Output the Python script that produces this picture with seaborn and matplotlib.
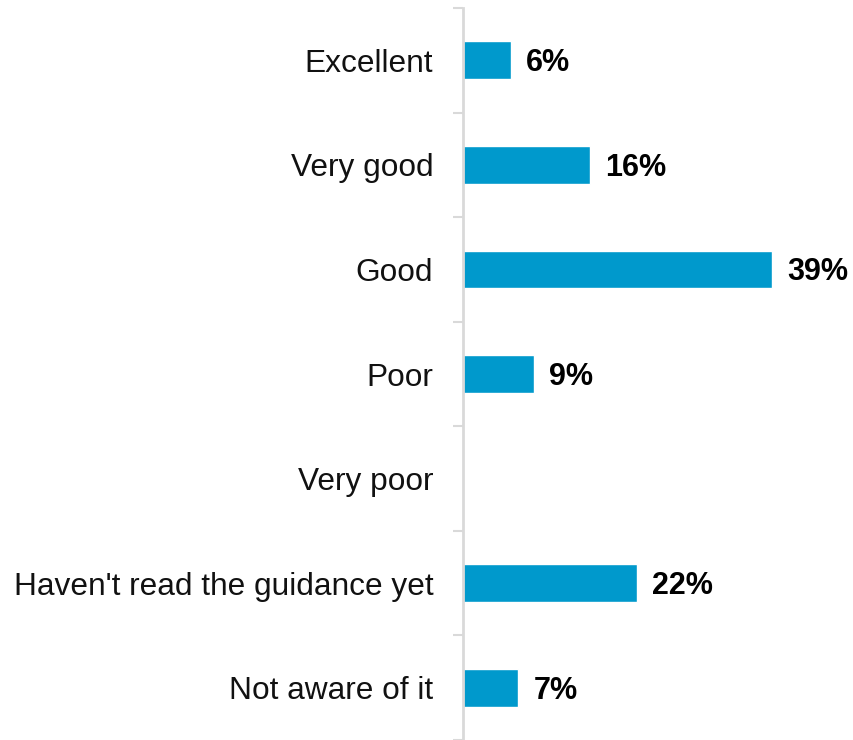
import matplotlib
matplotlib.use("Agg")
import matplotlib.pyplot as plt
import seaborn as sns
import pandas as pd

categories = ["Excellent", "Very good", "Good", "Poor", "Very poor",
              "Haven't read the guidance yet", "Not aware of it"]
values = [6, 16, 39, 9, None, 22, 7]

sns.set_theme(style="white")
plt.rcParams["font.family"] = ["Liberation Sans", "DejaVu Sans"]

df = pd.DataFrame({"category": categories, "value": values})

fig = plt.figure(figsize=(8.54, 7.40), dpi=100)
ax = fig.add_axes([463 / 854, 0.0, 388 / 854, 1 - 8 / 740])

sns.barplot(data=df, x="value", y="category", order=categories,
            color="#0099CC", saturation=1, width=0.36, ax=ax)

ax.set_xlim(0, 49)
ax.set_ylim(len(categories) - 0.5, -0.5)
ax.set_xlabel("")
ax.set_ylabel("")
ax.set_xticks([])

# ticks at category boundaries, labels centred on the bars
ax.set_yticks([i - 0.5 for i in range(len(categories) + 1)], minor=False)
ax.set_yticklabels([])
ax.set_yticks(range(len(categories)), minor=True)
ax.set_yticklabels(categories, minor=True, fontsize=22.8, color="#111111")
ax.tick_params(axis="y", which="major", length=7.5, width=1.5, color="#D9D9D9", left=True)
ax.tick_params(axis="y", which="minor", length=0, pad=21.5)

for side in ["top", "right", "bottom"]:
    ax.spines[side].set_visible(False)
ax.spines["left"].set_color("#D9D9D9")
ax.spines["left"].set_linewidth(2)

for i, v in enumerate(values):
    if v is None or pd.isna(v):
        continue
    ax.annotate(f"{v:g}%", xy=(v, i), xytext=(15, -3), textcoords="offset pixels",
                va="center", ha="left", fontsize=22, fontweight="bold", color="#000000")

fig.savefig("out.png", dpi=100)
